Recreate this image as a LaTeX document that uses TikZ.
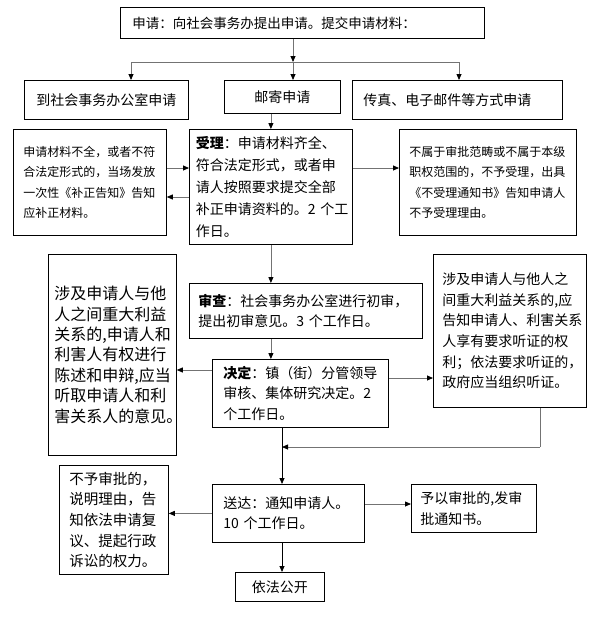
\documentclass[tikz,border=0pt]{standalone}
\usepackage{fontspec}
\setmainfont{Noto Sans CJK SC}
\usetikzlibrary{arrows.meta}
\definecolor{linegray}{gray}{0.45}
\tikzset{
  box/.style={draw, line width=.8pt, anchor=north west, inner sep=0pt, align=left},
  arr/.style={line width=.8pt, linegray, -{Triangle[length=6pt,width=5pt,black]}},
  ln/.style={line width=.8pt, linegray},
  big/.style={font=\fontsize{14}{20.5}\selectfont},
  small/.style={font=\fontsize{12}{20.3}\selectfont},
}

\begin{document}
\begin{tikzpicture}[x=1pt,y=-1pt]
\useasboundingbox (0,0) rectangle (609,624);
% application
\node[box,font=\fontsize{13.5}{20}\selectfont,minimum width=364pt,minimum height=31pt,text width=340pt] (sq) at (120,7) {申请：向社会事务办提出申请。提交申请材料：};
\node[box,big,align=center,minimum width=164pt,minimum height=39pt,text width=150pt] (dt) at (24,80) {到社会事务办公室申请};
\node[box,big,align=center,minimum width=116pt,minimum height=33pt,text width=100pt] (yj) at (224,80) {邮寄申请};
\node[box,big,minimum width=210pt,minimum height=39pt,text width=188pt] (cz) at (352,80) {传真、电子邮件等方式申请};
% acceptance
\node[box,small,minimum width=153pt,minimum height=106pt,text width=133pt] (bz) at (13,129) {申请材料不全，或者不符\\合法定形式的，当场发放\\一次性《补正告知》告知\\应补正材料。};
\node[box,font=\fontsize{14}{22}\selectfont,minimum width=163pt,minimum height=115pt,text width=150pt] (sl) at (189,129) {\textbf{受理}：申请材料齐全、\\符合法定形式，或者申\\请人按照要求提交全部\\补正申请资料的。2~个工\\作日。};
\node[box,small,minimum width=177pt,minimum height=106pt,text width=157pt] (bs) at (399,129) {不属于审批范畴或不属于本级\\职权范围的，不予受理，出具\\《不受理通知书》告知申请人\\不予受理理由。};
% review and decision
\node[box,font=\fontsize{16}{20.4}\selectfont,minimum width=128pt,minimum height=201pt,text width=116pt] (sb) at (48,254) {涉及申请人与他\\人之间重大利益\\关系的,申请人和\\利害人有权进行\\陈述和申辩,应当\\听取申请人和利\\害关系人的意见。};
\node[box,big,minimum width=233pt,minimum height=55pt,text width=215pt] (sc) at (189,283) {\textbf{审查}：社会事务办公室进行初审，\\提出初审意见。3~个工作日。};
\node[box,font=\fontsize{14}{20.6}\selectfont,minimum width=153pt,minimum height=153pt,text width=135pt] (tz) at (433,254) {涉及申请人与他人之\\间重大利益关系的,应\\告知申请人、利害关系\\人享有要求听证的权\\利；依法要求听证的，\\政府应当组织听证。};
\node[box,big,minimum width=176pt,minimum height=68pt,text width=154pt] (jd) at (212,359) {\textbf{决定}：镇（街）分管领导\\审核、集体研究决定。2\\个工作日。};
% delivery
\node[box,font=\fontsize{14.5}{20.6}\selectfont,minimum width=109pt,minimum height=109pt,text width=89pt] (by) at (59,465) {不予审批的，\\说明理由，告\\知依法申请复\\议、提起行政\\诉讼的权力。};
\node[box,big,minimum width=152pt,minimum height=58pt,text width=130pt] (sd) at (212,484) {送达：通知申请人。\\10~个工作日。};
\node[box,big,minimum width=125pt,minimum height=48pt,text width=107pt] (yy) at (411,484) {予以审批的,发审\\批通知书。};
\node[box,big,align=center,minimum width=89pt,minimum height=29pt,text width=80pt] (gk) at (235,572) {依法公开};
% connectors
\coordinate (fork) at (293,62);
\coordinate (forkl) at (131,62);
\coordinate (forkr) at (459,62);
\draw[arr] (sq.south -| fork) -- (fork);
\draw[ln] (forkl) -- (forkr);
\draw[arr] (forkl) -- (forkl |- dt.north);
\draw[arr] (fork) -- (fork |- yj.north);
\draw[arr] (forkr) -- (forkr |- cz.north);
\draw[arr] (sl.north |- yj.south) -- (sl.north);
\draw[arr] (sl.south) -- (sl.south |- sc.north);
\draw[arr] (sl.south |- sc.south) -- (sl.south |- jd.north);
\coordinate (lv1) at (0,168);
\coordinate (lv2) at (0,197);
\draw[arr] (bz.east |- lv1) -- (sl.west |- lv1);
\draw[arr] (sl.west |- lv2) -- (bz.east |- lv2);
\draw[arr] (sl.east |- lv1) -- (bs.west |- lv1);
\coordinate (lv3) at (0,370);
\coordinate (lv4) at (0,378);
\draw[arr] (jd.west |- lv3) -- (sb.east |- lv3);
\draw[arr] (jd.east |- lv4) -- (tz.west |- lv4);
\coordinate (join) at (282,447);
\coordinate (tzdrop) at (540,447);
\draw[ln] (tzdrop |- tz.south) -- (tzdrop);
\draw[arr] (tzdrop) -- (join);
\draw[arr,black] (join |- jd.south) -- (join |- sd.north);
\coordinate (lv5) at (0,504);
\draw[arr] (sd.west) -- (sd.west -| by.east);
\draw[arr] (sd.east |- lv5) -- (yy.west |- lv5);
\draw[arr,black] (join |- sd.south) -- (join |- gk.north);
\end{tikzpicture}
\end{document}
